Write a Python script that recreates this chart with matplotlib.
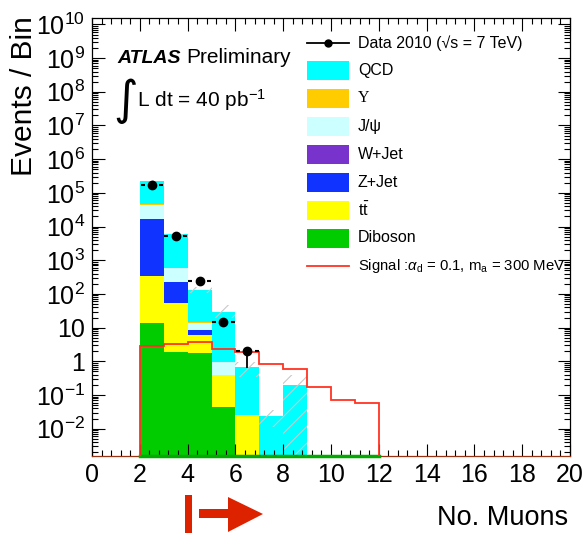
import numpy as np
import matplotlib
matplotlib.use("Agg")
import matplotlib.pyplot as plt
from matplotlib.patches import Rectangle, Polygon
from matplotlib.lines import Line2D
from matplotlib.ticker import FixedLocator, FixedFormatter, LogLocator, MultipleLocator, NullFormatter

plt.rcParams['font.family'] = ['Liberation Sans', 'DejaVu Sans']
plt.rcParams['mathtext.fontset'] = 'custom'
plt.rcParams['mathtext.rm'] = 'Liberation Sans'
plt.rcParams['mathtext.it'] = 'Liberation Sans:italic'
plt.rcParams['mathtext.bf'] = 'Liberation Sans:bold'
plt.rcParams['hatch.linewidth'] = 0.8

# ---- data (number of muons, bins of width 1 from 2 to 9) ----
bin_edges = np.arange(2, 10)
diboson = [14, 1.9, 1.75, 0.045, 0, 0, 0]
ttbar = [326, 51, 4.3, 0.355, 0.026, 0, 0]
zjet = [16300, 177, 2.6, 0, 0, 0, 0]
wjet = [5, 0.5, 0.05, 0, 0, 0, 0]
jpsi = [27400, 340, 5.3, 0.58, 0, 0, 0]
upsilon = [2300, 30, 0.3, 0, 0, 0, 0]
qcd = [178000, 5300, 116, 28, 0.64, 0.024, 0.2]

# total background uncertainty band
band_lo = [215000, 5600, 105, 19.5, 0.35, 0.011, 0.001]
band_hi = [235000, 6200, 160, 46, 0.95, 0.036, 0.40]

# data 2010 (errors as visible in the picture)
data_x = [2.5, 3.5, 4.5, 5.5, 6.5]
data_y = [175000, 5100, 245, 15, 2]
data_err_lo = [400, 70, 15, 3.5, 1.35]
data_err_hi = [400, 70, 15, 3.5, 0.6]

# signal alpha_d = 0.1, m_a = 300 MeV
sig_edges = np.arange(2, 13)
signal = [2.87, 3.28, 3.69, 2.38, 1.9, 0.82, 0.6, 0.17, 0.071, 0.057]

components = [diboson, ttbar, zjet, wjet, jpsi, upsilon, qcd]
comp_colors = ['#00cc00', '#ffff00', '#1133ff', '#7733cc', '#ccffff', '#ffcc00', '#00ffff']
legend_labels = ['QCD', '\u03a5', 'J/\u03c8', 'W+Jet', 'Z+Jet', r't$\bar{\rm t}$', 'Diboson']
legend_colors = ['#00ffff', '#ffcc00', '#ccffff', '#7733cc', '#1133ff', '#ffff00', '#00cc00']

ymin, ymax = 1.55e-3, 1.55e10

fig = plt.figure(figsize=(5.88, 5.33), dpi=100)
ax = fig.add_axes([92/588, 77/533, 478/588, 438/533])
ax.set_yscale('log')

left = bin_edges[:-1]
bottom = np.full(len(left), ymin / 10)
for vals, col in zip(components, comp_colors):
    vals = np.array(vals, dtype=float)
    top = bottom + vals
    h = np.where(vals > 0, top - bottom, 0)
    ax.bar(left, h, width=1, bottom=bottom, align='edge', color=col, linewidth=0)
    bottom = np.where(vals > 0, top, bottom)

# uncertainty band
ax.bar(left, np.array(band_hi) - np.array(band_lo), width=1, bottom=band_lo, align='edge',
       facecolor='none', edgecolor='#c8c8c8', hatch='//', linewidth=0)

# signal
ax.stairs(signal, sig_edges, baseline=ymin, color='#ff3322', linewidth=1.3, zorder=4)
ax.plot([2, 12], [ymin, ymin], color='#00aa00', lw=2.5, clip_on=False, zorder=3)

# data: marker, vertical error, ROOT-like x error stubs
dx = np.array(data_x)
ax.errorbar(data_x, data_y, yerr=[data_err_lo, data_err_hi], fmt='o', color='black',
            markersize=6, elinewidth=1.3, capsize=0, zorder=5)
ax.hlines(data_y, dx - 0.47, dx - 0.3, color='black', lw=1.5, zorder=5)
ax.hlines(data_y, dx + 0.3, dx + 0.47, color='black', lw=1.5, zorder=5)

ax.set_xlim(0, 20)
ax.set_ylim(ymin, ymax)

# ticks
ax.xaxis.set_major_locator(MultipleLocator(2))
ax.xaxis.set_minor_locator(MultipleLocator(0.4))
decades = [10.0**k for k in range(-2, 11)]
ytick_labels = ['$10^{-2}$', '$10^{-1}$', '1', '10'] + ['$10^{%d}$' % k for k in range(2, 11)]
ax.yaxis.set_major_locator(FixedLocator(decades))
ax.yaxis.set_major_formatter(FixedFormatter(ytick_labels))
ax.yaxis.set_minor_locator(LogLocator(base=10, subs=np.arange(2, 10), numticks=30))
ax.yaxis.set_minor_formatter(NullFormatter())
ax.tick_params(which='both', direction='in', top=True, right=True, labelsize=18, width=0.8)
ax.tick_params(which='major', length=9)
ax.tick_params(which='minor', length=4.5)
ax.tick_params(axis='x', pad=5)
ax.tick_params(axis='y', pad=5)
ax.spines['bottom'].set_color('#993311')
for s in ax.spines.values():
    s.set_linewidth(0.9)

fig.text(24/588, 1 - 16/533, 'Events / Bin', rotation=90, ha='center', va='top', fontsize=21.5)
fig.text(568/588, 1 - 518/533, 'No. Muons', ha='right', va='center', fontsize=19.5)

# ATLAS label
fig.text(117/588, 1 - 63/533, 'ATLAS', fontsize=14, fontweight='bold', fontstyle='italic')
fig.text(186/588, 1 - 63/533, 'Preliminary', fontsize=15)
fig.text(113/588, 1 - 114/533, '\u222b', family=['DejaVu Sans'], fontsize=34, va='baseline')
fig.text(137/588, 1 - 107/533, 'L dt = 40 pb$^{-1}$', fontsize=15)

# legend (manual, ROOT style)
def fx(px):
    return px / 588
def fy(py):
    return 1 - py / 533

row0 = 42.7
pitch = 27.9
fs_leg = 11.5
fig.add_artist(Line2D([fx(307), fx(349)], [fy(row0), fy(row0)], color='black', lw=1.3))
fig.add_artist(Line2D([fx(328)], [fy(row0)], marker='o', color='black', markersize=5))
fig.text(fx(358), fy(row0), 'Data 2010 (\u221as = 7 TeV)', fontsize=fs_leg, va='center')
for i, (lab, col) in enumerate(zip(legend_labels, legend_colors)):
    yc = row0 + (i + 1) * pitch
    fig.add_artist(Rectangle((fx(307), fy(yc + 9.5)), 42/588, 19/533, facecolor=col,
                             edgecolor='none', transform=fig.transFigure))
    fam = ['Liberation Serif', 'DejaVu Serif'] if lab == '\u03a5' else None
    fig.text(fx(358), fy(yc), lab, fontsize=fs_leg, va='center', family=fam)
ys = row0 + 8 * pitch
fig.add_artist(Line2D([fx(307), fx(349)], [fy(ys), fy(ys)], color='#ff3322', lw=1.3))
fig.text(fx(358), fy(ys), r'Signal :$\alpha_{\rm d}$ = 0.1, m$_{\rm a}$ = 300 MeV', fontsize=10.7,
         va='center')

# cut arrow below the axis
red = '#dd2200'
fig.add_artist(Rectangle((fx(185), 0), 7/588, fy(495), facecolor=red, edgecolor='none',
                         transform=fig.transFigure))
fig.add_artist(Rectangle((fx(199), fy(518)), 30/588, 9/533, facecolor=red, edgecolor='none',
                         transform=fig.transFigure))
fig.add_artist(Polygon([(fx(228), fy(497)), (fx(263), fy(514)), (fx(228), fy(532))], closed=True,
                       facecolor=red, edgecolor='none', transform=fig.transFigure))

fig.savefig('out.png', dpi=100)
